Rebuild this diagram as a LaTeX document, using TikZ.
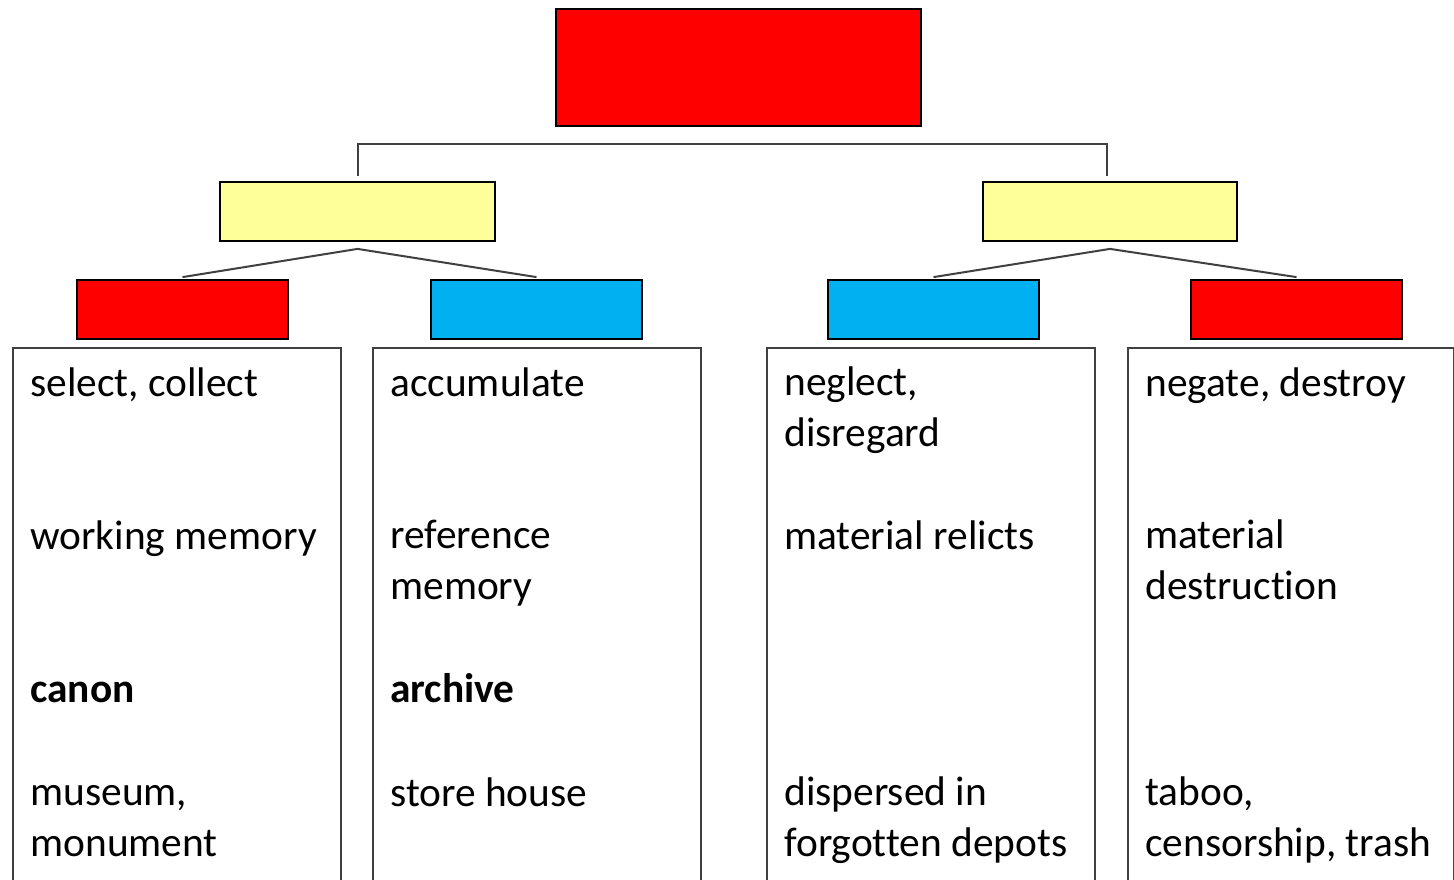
\documentclass[tikz,border=0pt]{standalone}
\usepackage{fontspec}
\setmainfont{Carlito}[Ligatures=NoCommon]
\usetikzlibrary{calc}
\definecolor{boxred}{HTML}{FF0000}
\definecolor{boxyellow}{HTML}{FFFF99}
\definecolor{boxblue}{HTML}{00B0F0}
\definecolor{linegray}{HTML}{404040}
\tikzset{
  catbox/.style={draw=black, line width=0.9pt, minimum height=29.5pt, inner sep=0pt},
  panel/.style={draw=linegray, line width=1pt, anchor=north west, minimum width=164pt, minimum height=300pt, inner sep=0pt},
  link/.style={draw=linegray, line width=1pt},
  entry/.style={anchor=base west, align=left, inner sep=0pt, font=\fontsize{20.7pt}{25.3pt}\selectfont},
}

\begin{document}
\begin{tikzpicture}[x=0.5pt, y=-0.5pt]
  \useasboundingbox (0,0) rectangle (1454,879);
  \clip (0,0) rectangle (1454,879);

  % colour boxes
  \node[catbox, fill=boxred, minimum width=182.5pt, minimum height=58.5pt] (ROOT) at (738.5,67.5) {};
  \node[catbox, fill=boxyellow, minimum width=137.5pt] (REMEMBER) at (357.5,211.5) {};
  \node[catbox, fill=boxyellow, minimum width=127pt] (FORGET) at (1110,211.5) {};
  \node[catbox, fill=boxred, minimum width=105.5pt] (CANON) at (182.5,309.5) {};
  \node[catbox, fill=boxblue, minimum width=105.5pt] (ARCHIVE) at (536.5,309.5) {};
  \node[catbox, fill=boxblue, minimum width=105.5pt] (RELICT) at (933.5,309.5) {};
  \node[catbox, fill=boxred, minimum width=105.5pt] (DESTROY) at (1296.5,309.5) {};

  % connectors
  \draw[link] ([yshift=2.5pt]REMEMBER.north) |- ($(ROOT.south)+(0,17)$) -| ([xshift=-1.5pt,yshift=2.5pt]FORGET.north);
  \draw[link] ([yshift=1pt]CANON.north) -- ([yshift=-3.5pt]REMEMBER.south) -- ([yshift=1pt]ARCHIVE.north);
  \draw[link] ([yshift=1pt]RELICT.north) -- ([yshift=-3.5pt]FORGET.south) -- ([yshift=1pt]DESTROY.north);

  % panels
  \node[panel] (P1) at (12,347) {};
  \node[panel] (P2) at (372,347) {};
  \node[panel] (P3) at (766,347) {};
  \node[panel, minimum width=163pt] (P4) at (1127,347) {};

  % panel texts (base = last line)
  \node[entry] (P1a) at ($(P1.north west)+(18,49)$) {select, collect};
  \node[entry] (P1b) at ($(P1.north west)+(18,202)$) {working memory};
  \node[entry] (P1c) at ($(P1.north west)+(18,355)$) {\bfseries canon};
  \node[entry] (P1d) at ($(P1.north west)+(18,509.5)$) {museum,\\monument};

  \node[entry] (P2a) at ($(P2.north west)+(18,49)$) {accumulate};
  \node[entry] (P2b) at ($(P2.north west)+(18,252.5)$) {reference\\memory};
  \node[entry] (P2c) at ($(P2.north west)+(18,355)$) {\bfseries archive};
  \node[entry] (P2d) at ($(P2.north west)+(18,459)$) {store house};

  \node[entry] (P3a) at ($(P3.north west)+(18,99.5)$) {neglect,\\disregard};
  \node[entry] (P3b) at ($(P3.north west)+(18,202)$) {material relicts};
  \node[entry] (P3d) at ($(P3.north west)+(18,509.5)$) {dispersed in\\forgotten depots};

  \node[entry] (P4a) at ($(P4.north west)+(18,49)$) {negate, destroy};
  \node[entry] (P4b) at ($(P4.north west)+(18,252.5)$) {material\\destruction};
  \node[entry] (P4d) at ($(P4.north west)+(18,509.5)$) {taboo,\\censorship, trash};
\end{tikzpicture}
\end{document}
